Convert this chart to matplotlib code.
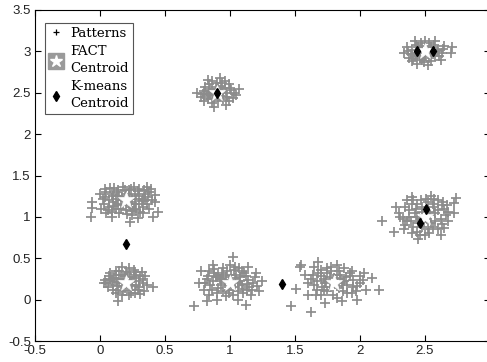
import matplotlib
matplotlib.use("Agg")
import matplotlib.pyplot as plt
from matplotlib.lines import Line2D

# ---- data ----
cluster_a = [(0.20,1.20),(0.15,1.25),(0.25,1.22),(0.10,1.18),(0.30,1.15),(0.05,1.30),(0.35,1.28),(0.12,1.10),
             (0.28,1.08),(0.22,1.32),(0.08,1.35),(0.18,1.36),(0.30,1.34),(0.38,1.30),(0.02,1.22),(0.40,1.20),
             (0.15,1.05),(0.25,1.02),(0.33,1.12),(0.07,1.12),(0.20,1.28),(0.13,1.30),(0.27,1.28),(0.18,1.14),
             (0.24,1.12),(0.35,1.20),(0.05,1.05),(0.10,1.25),(0.30,1.25),(0.16,1.20),(0.24,1.18),(0.20,1.08),
             (0.11,1.35),(0.26,1.36),(0.36,1.36),(0.00,1.28),(0.42,1.26),(-0.06,1.18),(-0.06,1.11),(-0.07,1.00),
             (0.42,1.18),(0.45,1.06),(0.41,1.00),(0.23,0.94),(0.29,0.99),(0.09,1.00),(0.33,1.05),(0.38,1.10),
             (0.03,1.15),(0.22,1.25),(0.04,1.24),(0.09,1.28),(0.14,1.32),(0.19,1.33),(0.24,1.34),(0.29,1.31),
             (0.34,1.33),(0.37,1.24),(0.32,1.19),(0.27,1.16),(0.22,1.15),(0.17,1.24),(0.12,1.22),(0.07,1.20),
             (0.06,1.08),(0.11,1.13),(0.16,1.09),(0.21,1.04),(0.26,1.10),(0.31,1.06),(0.36,1.15),(0.14,1.16),
             (0.28,1.22),(0.19,1.19),(0.33,1.22),(0.09,1.06),(0.01,1.10),(0.39,1.34),(0.04,1.34),(0.25,1.07)]
cluster_b = [(0.20,0.20),(0.15,0.25),(0.25,0.22),(0.10,0.18),(0.30,0.15),(0.12,0.30),(0.28,0.30),(0.18,0.10),
             (0.24,0.12),(0.08,0.25),(0.33,0.25),(0.20,0.33),(0.15,0.35),(0.26,0.36),(0.06,0.15),(0.34,0.10),
             (0.22,0.05),(0.12,0.08),(0.17,0.17),(0.23,0.27),(0.30,0.22),(0.10,0.12),(0.05,0.20),(0.36,0.18),
             (0.19,0.28),(0.27,0.08),(0.41,0.15),(0.14,-0.02),(0.17,0.40),(0.03,0.20),(0.22,0.38),(0.32,0.33),
             (0.08,0.32),(0.25,0.16),(0.13,0.21),(0.11,0.26),(0.16,0.30),(0.21,0.24),(0.26,0.26),(0.31,0.28),
             (0.29,0.12),(0.24,0.08),(0.19,0.14),(0.14,0.12),(0.09,0.22),(0.07,0.28),(0.18,0.22),(0.23,0.18),
             (0.28,0.18),(0.33,0.20),(0.13,0.16),(0.17,0.06),(0.21,0.31),(0.27,0.33),(0.12,0.35),(0.35,0.28),
             (0.04,0.24),(0.31,0.07),(0.15,0.20)]
cluster_c = [(0.90,2.50),(0.85,2.55),(0.95,2.52),(0.82,2.47),(0.98,2.45),(0.88,2.42),(0.93,2.58),(0.84,2.60),
             (1.00,2.56),(0.80,2.52),(1.03,2.50),(0.90,2.62),(0.87,2.45),(0.95,2.42),(0.78,2.45),(1.05,2.47),
             (0.86,2.38),(0.96,2.64),(0.83,2.66),(0.92,2.68),(0.75,2.50),(1.07,2.55),(0.80,2.40),(0.97,2.35),
             (0.88,2.33),(0.99,2.40),(0.91,2.55),(0.84,2.50),(0.86,2.52),(0.92,2.46),(0.97,2.50),(0.89,2.57),
             (0.83,2.43),(1.01,2.53),(0.94,2.62),(0.81,2.57),(0.99,2.60),(0.86,2.64),(0.91,2.40),(0.85,2.48),
             (0.96,2.56),(1.02,2.44),(0.79,2.49),(0.88,2.47)]
cluster_d = [(1.00,0.20),(0.92,0.25),(1.08,0.22),(0.85,0.18),(1.15,0.15),(0.95,0.10),(1.05,0.30),(0.88,0.32),
             (1.12,0.28),(0.98,0.35),(0.82,0.25),(1.18,0.20),(0.90,0.08),(1.10,0.08),(1.02,0.05),(0.95,0.38),
             (1.07,0.38),(0.80,0.12),(1.20,0.32),(0.87,0.22),(1.13,0.12),(0.93,0.18),(1.04,0.15),(0.97,0.27),
             (1.09,0.35),(0.84,0.35),(1.16,0.05),(1.00,0.42),(0.72,-0.08),(0.82,-0.02),(1.02,0.52),(0.87,0.42),
             (1.25,0.22),(1.12,-0.06),(0.78,0.34),(0.90,0.00),(1.06,0.00),(1.22,0.10),(0.76,0.20),(0.99,0.12),
             (1.14,0.40),(0.91,0.30),(0.89,0.27),(0.94,0.32),(0.99,0.24),(1.04,0.26),(1.09,0.18),(1.14,0.24),
             (1.19,0.27),(1.11,0.32),(1.06,0.10),(1.01,0.16),(0.96,0.20),(0.91,0.14),(0.86,0.12),(0.83,0.29),
             (0.88,0.37),(0.97,0.04),(1.03,0.36),(1.08,0.27),(1.17,0.12),(0.93,0.22),(1.01,0.30),(0.84,0.06),
             (1.13,0.19),(0.95,0.30),(1.06,0.20),(1.10,0.13),(0.81,0.20),(1.21,0.16),(0.99,0.08),(1.04,0.40)]
cluster_e = [(1.80,0.20),(1.72,0.25),(1.88,0.22),(1.65,0.18),(1.95,0.15),(1.75,0.10),(1.85,0.30),(1.68,0.32),
             (1.92,0.28),(1.78,0.35),(1.62,0.25),(2.00,0.20),(1.70,0.05),(1.90,0.08),(1.82,0.02),(1.75,0.38),
             (1.88,0.38),(2.03,0.32),(1.67,0.12),(1.97,0.10),(1.73,0.20),(1.84,0.14),(1.77,0.27),(1.94,0.35),
             (2.05,0.12),(1.47,-0.08),(1.62,-0.15),(1.51,0.13),(1.55,0.42),(1.54,0.40),(1.68,0.46),(2.09,0.26),
             (2.15,0.12),(1.73,-0.04),(1.60,0.05),(1.58,0.30),(1.86,-0.02),(1.98,0.00),(1.82,0.42),(1.65,0.40),
             (1.70,0.28),(1.75,0.32),(1.80,0.26),(1.85,0.25),(1.90,0.18),(1.95,0.24),(2.00,0.28),(1.92,0.32),
             (1.87,0.10),(1.82,0.16),(1.77,0.15),(1.72,0.12),(1.67,0.22),(1.64,0.30),(1.70,0.36),(1.79,0.05),
             (1.84,0.35),(1.89,0.27),(1.98,0.16),(1.74,0.22),(1.82,0.30),(1.66,0.06),(1.94,0.08),(1.78,0.40),
             (1.86,0.20),(1.71,0.15),(2.02,0.24),(1.60,0.20)]
cluster_f = [(2.50,3.00),(2.45,3.05),(2.55,3.05),(2.42,2.95),(2.58,2.95),(2.40,3.02),(2.60,3.02),(2.47,3.10),
             (2.53,3.10),(2.48,2.90),(2.55,2.88),(2.38,2.92),(2.63,2.98),(2.36,3.05),(2.44,2.85),(2.52,2.84),
             (2.65,3.07),(2.42,3.12),(2.58,3.12),(2.34,2.98),(2.71,3.05),(2.70,2.98),(2.50,2.95),(2.46,3.00),
             (2.56,2.99),(2.62,2.90),(2.40,2.88),(2.44,2.98),(2.48,3.06),(2.52,3.02),(2.57,3.08),(2.61,2.95),
             (2.39,2.97),(2.43,3.08),(2.50,3.12),(2.46,2.92),(2.53,2.92),(2.59,3.00),(2.37,3.00),(2.49,2.87),
             (2.64,3.03),(2.41,2.91),(2.55,2.97)]
cluster_g = [(2.50,1.00),(2.42,1.05),(2.58,1.05),(2.45,0.92),(2.55,0.92),(2.38,1.00),(2.62,0.98),(2.48,1.12),
             (2.56,1.15),(2.40,1.15),(2.35,0.90),(2.65,1.10),(2.52,0.85),(2.44,0.82),(2.60,0.85),(2.30,1.05),
             (2.68,0.95),(2.47,1.20),(2.57,1.22),(2.36,1.20),(2.33,0.97),(2.66,1.02),(2.50,0.78),(2.40,0.80),
             (2.62,0.78),(2.28,1.12),(2.17,0.95),(2.74,1.23),(2.26,0.82),(2.45,0.73),(2.72,1.05),(2.72,1.17),
             (2.53,1.06),(2.46,0.98),(2.58,0.95),(2.43,1.10),(2.35,1.12),(2.55,1.25),(2.40,1.24),(2.64,1.18),
             (2.44,1.00),(2.48,1.06),(2.54,1.02),(2.60,1.08),(2.63,1.14),(2.52,1.18),(2.44,1.16),(2.38,1.08),
             (2.36,0.95),(2.41,0.88),(2.48,0.88),(2.56,0.88),(2.63,0.91),(2.68,1.06),(2.31,1.00),(2.49,0.94),
             (2.57,1.12),(2.41,1.20),(2.60,1.20),(2.53,0.80),(2.46,0.78),(2.34,0.85),(2.65,0.86),(2.51,1.22),
             (2.39,0.95),(2.67,1.14)]

fact_x = [0.2, 0.2, 0.9, 1.0, 1.8, 2.5, 2.5]
fact_y = [1.2, 0.2, 2.5, 0.2, 0.2, 3.0, 1.0]
kmeans_x = [0.2, 0.9, 1.4, 2.44, 2.56, 2.51, 2.46]
kmeans_y = [0.67, 2.5, 0.19, 3.0, 3.0, 1.09, 0.93]

xticks = [-0.5, 0, 0.5, 1, 1.5, 2, 2.5, 3]
yticks = [-0.5, 0, 0.5, 1, 1.5, 2, 2.5, 3, 3.5]
xticklabels = ["-0.5", "0", "0.5", "1", "1.5", "2", "2.5", "3"]
yticklabels = ["-0.5", "0", "0.5", "1", "1.5", "2", "2.5", "3", "3.5"]

# ---- figure ----
fig = plt.figure(figsize=(4.87, 3.62), dpi=100)
ax = fig.add_axes([35/487, 21/362, 455/487, 331/362])

gray = "#8c8c8c"
for cl in [cluster_a, cluster_b, cluster_c, cluster_d, cluster_e, cluster_f, cluster_g]:
    xs = [p[0] for p in cl]
    ys = [p[1] for p in cl]
    ax.plot(xs, ys, linestyle="none", marker="+", markersize=7.5, markeredgewidth=1.25, color=gray)

ax.plot(fact_x, fact_y, linestyle="none", marker="*", markersize=12, markerfacecolor="white",
        markeredgecolor="white", markeredgewidth=0.5)
ax.plot(kmeans_x, kmeans_y, linestyle="none", marker="d", markersize=5.5, color="black")

ax.set_xlim(-0.5, 3)
ax.set_ylim(-0.5, 3.5)
ax.set_xticks(xticks)
ax.set_xticklabels(xticklabels)
ax.set_yticks(yticks)
ax.set_yticklabels(yticklabels)
ax.tick_params(direction="in", top=True, right=True, length=4, width=0.8, labelsize=9.5, pad=3,
               labelcolor="#222222")
for lab in ax.get_xticklabels() + ax.get_yticklabels():
    lab.set_family("Liberation Sans")
for s in ax.spines.values():
    s.set_linewidth(0.8)

# legend
h_pat = Line2D([], [], linestyle="none", marker="+", markersize=5, color="black", markeredgewidth=0.9)
h_sq = Line2D([], [], linestyle="none", marker="s", markersize=11, color="#9a9a9a")
h_st = Line2D([], [], linestyle="none", marker="*", markersize=9, markerfacecolor="white",
              markeredgecolor="white")
h_km = Line2D([], [], linestyle="none", marker="d", markersize=5, color="black")
leg = ax.legend([h_pat, (h_sq, h_st), h_km], ["Patterns", "FACT\nCentroid", "K-means\nCentroid"],
                loc="upper left", bbox_to_anchor=(0.022, 0.961), frameon=True, fancybox=False,
                edgecolor="#555555", framealpha=1, borderpad=0.3, handlelength=1.1, handletextpad=0.5,
                labelspacing=0.4, borderaxespad=0,
                prop={"family": "DejaVu Serif", "size": 9.5})
leg.get_frame().set_linewidth(0.8)
for t in leg.get_texts():
    t.set_linespacing(1.4)

fig.savefig("out.png", dpi=100)
